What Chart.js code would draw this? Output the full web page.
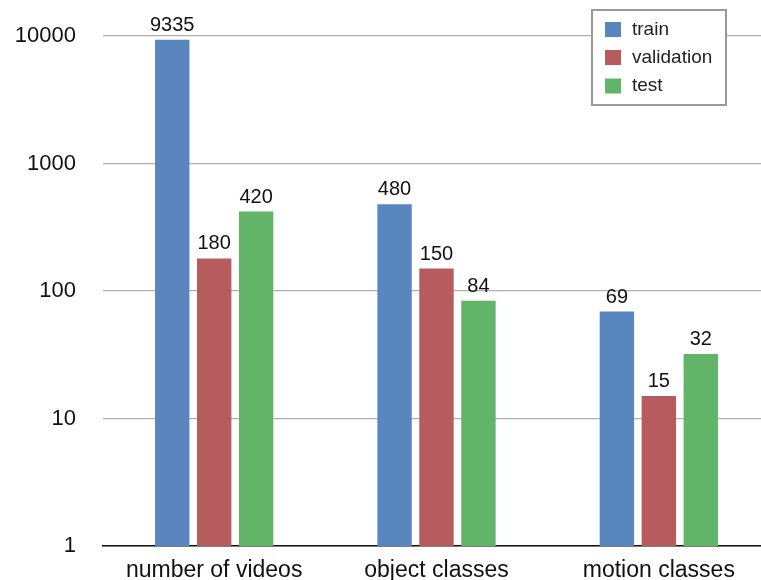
<!DOCTYPE html>
<html><head><meta charset="utf-8">
<script src="https://cdn.jsdelivr.net/npm/chart.js@4"></script>
<style>html,body{margin:0;padding:0;background:#fff;overflow:hidden}#wrap{width:761px;height:580px;overflow:hidden}canvas{display:block}</style>
</head><body><div id="wrap"><canvas id="c" width="770" height="580"></canvas></div>
<script>
const categories = ["number of videos", "object classes", "motion classes"];
const seriesNames = ["train", "validation", "test"];
const trainValues = [9335, 480, 69];
const validationValues = [180, 150, 15];
const testValues = [420, 84, 32];
const yTicks = [1, 10, 100, 1000, 10000];
const colors = ["#5a86bf", "#b75c5e", "#62b568"];
const FONT = "'Liberation Sans', Arial, Helvetica, sans-serif";

const valueLabels = {
  id: 'valueLabels',
  afterDatasetsDraw(chart) {
    const ctx = chart.ctx;
    ctx.save();
    ctx.font = "20px " + FONT;
    ctx.fillStyle = "#111";
    ctx.textAlign = "center";
    ctx.textBaseline = "alphabetic";
    chart.data.datasets.forEach((ds, i) => {
      chart.getDatasetMeta(i).data.forEach((bar, j) => {
        ctx.fillText(String(ds.data[j]), bar.x, bar.y - 9);
      });
    });
    ctx.restore();
  }
};
const boxLegend = {
  id: 'boxLegend',
  afterDraw(chart) {
    const ctx = chart.ctx;
    ctx.save();
    ctx.fillStyle = "#fff";
    ctx.fillRect(592, 10, 134, 95);
    ctx.strokeStyle = "#9a9a9a";
    ctx.lineWidth = 2;
    ctx.strokeRect(592, 10, 134, 95);
    ctx.font = "19px " + FONT;
    ctx.textBaseline = "middle";
    ctx.textAlign = "left";
    const rows = [29.5, 57.5, 86];
    chart.data.datasets.forEach((ds, i) => {
      ctx.fillStyle = ds.backgroundColor;
      ctx.fillRect(605, rows[i] - 7.5, 16, 15);
      ctx.fillStyle = "#222";
      ctx.fillText(ds.label, 632, rows[i]);
    });
    ctx.restore();
  }
};

new Chart(document.getElementById('c'), {
  type: 'bar',
  data: {
    labels: categories,
    datasets: [
      { label: seriesNames[0], data: trainValues, backgroundColor: colors[0] },
      { label: seriesNames[1], data: validationValues, backgroundColor: colors[1] },
      { label: seriesNames[2], data: testValues, backgroundColor: colors[2] }
    ]
  },
  options: {
    responsive: false,
    animation: false,
    events: [],
    layout: { padding: { top: 36, left: 0, right: 0, bottom: 0 } },
    datasets: { bar: { categoryPercentage: 0.566, barPercentage: 0.82 } },
    plugins: { legend: { display: false }, tooltip: { enabled: false } },
    scales: {
      x: {
        grid: { display: false, drawTicks: false },
        border: { display: true, color: "#111", width: 1.5 },
        ticks: { color: "#111", font: { family: FONT, size: 23 }, padding: 11 },
        afterFit(s) { s.height = 34; }
      },
      y: {
        type: 'logarithmic',
        min: 1, max: 10000,
        afterBuildTicks(s) { s.ticks = yTicks.map(v => ({ value: v })); },
        grid: { color: "#b0b0b0", lineWidth: 1.2, drawTicks: false },
        border: { display: false },
        ticks: { color: "#111", font: { family: FONT, size: 22 }, padding: 27,
                 callback: v => String(v) },
        afterFit(s) { s.width = 103; s.paddingTop = 0; s.paddingBottom = 0; }
      }
    }
  },
  plugins: [valueLabels, boxLegend]
});
</script></body></html>
